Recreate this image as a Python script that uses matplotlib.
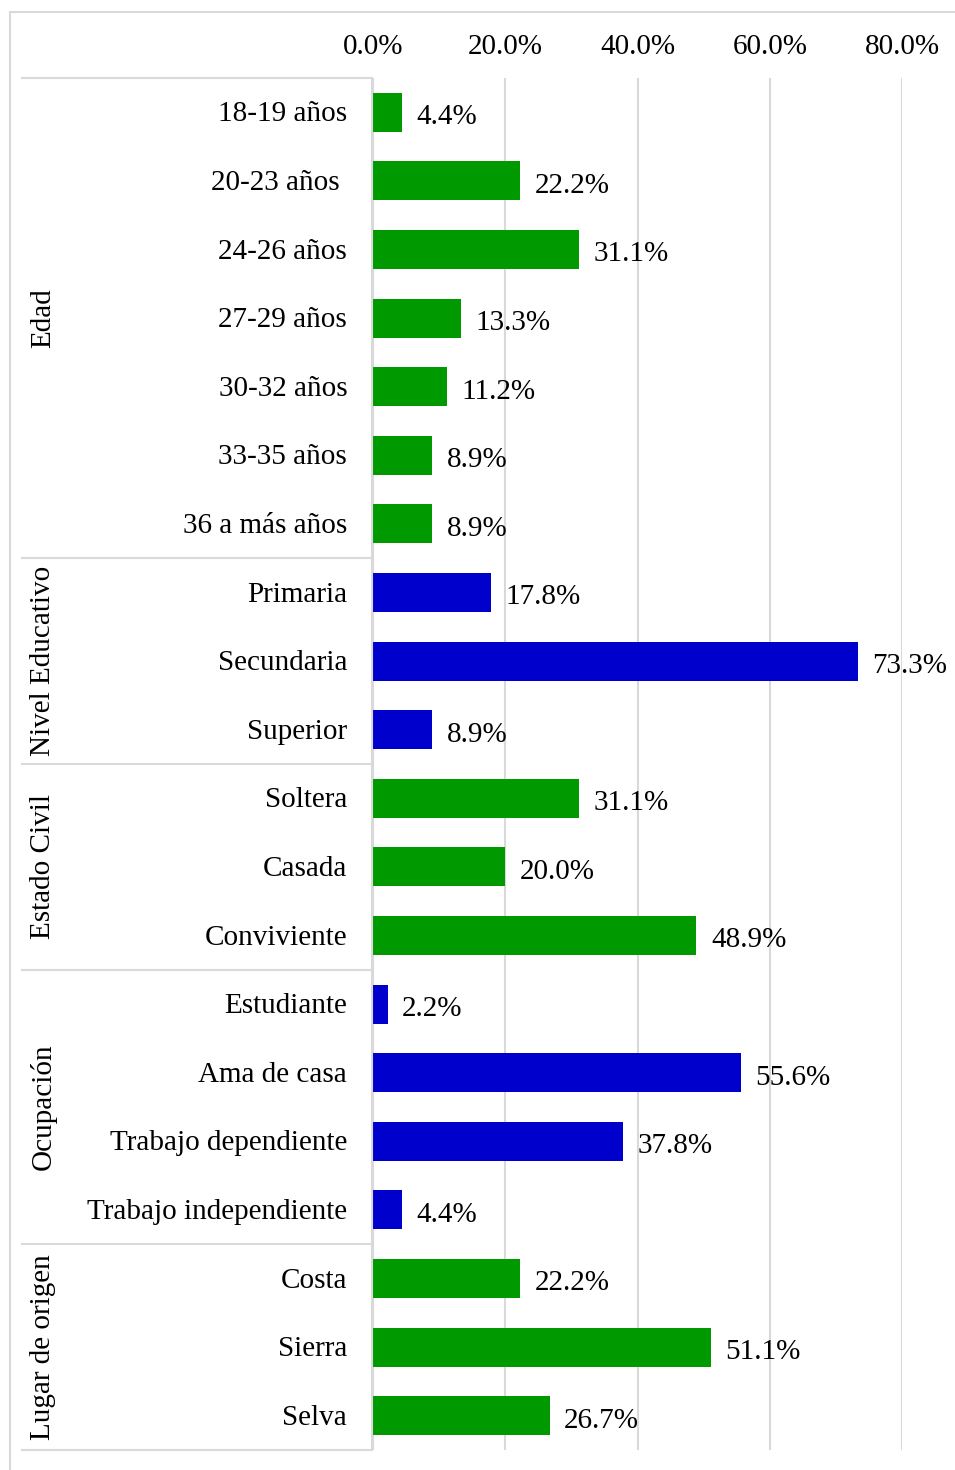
import matplotlib
matplotlib.use("Agg")
import matplotlib.pyplot as plt
from matplotlib.lines import Line2D

plt.rcParams["font.family"] = ["Liberation Serif", "DejaVu Serif"]

# ---------------- datos ----------------
grupos = ["Edad", "Nivel Educativo", "Estado Civil", "Ocupación", "Lugar de origen"]
cat_edad = ["18-19 años", "20-23 años ", "24-26 años", "27-29 años", "30-32 años", "33-35 años", "36 a más años"]
val_edad = [4.4, 22.2, 31.1, 13.3, 11.2, 8.9, 8.9]
cat_educ = ["Primaria", "Secundaria", "Superior"]
val_educ = [17.8, 73.3, 8.9]
cat_civil = ["Soltera", "Casada", "Conviviente"]
val_civil = [31.1, 20.0, 48.9]
cat_ocup = ["Estudiante", "Ama de casa", "Trabajo dependiente", "Trabajo independiente"]
val_ocup = [2.2, 55.6, 37.8, 4.4]
cat_lugar = ["Costa", "Sierra", "Selva"]
val_lugar = [22.2, 51.1, 26.7]
xticks = [0, 20, 40, 60, 80]

VERDE, AZUL, GRIS = "#009900", "#0000CC", "#d9d9d9"
bloques = [(cat_edad, val_edad, VERDE), (cat_educ, val_educ, AZUL), (cat_civil, val_civil, VERDE),
           (cat_ocup, val_ocup, AZUL), (cat_lugar, val_lugar, VERDE)]

W, H = 955, 1470
fig = plt.figure(figsize=(W / 100, H / 100), dpi=100)
x0, x1, y_top, y_bot = 373, 902, 78, 1450
ax = fig.add_axes([x0 / W, 1 - y_bot / H, (x1 - x0) / W, (y_bot - y_top) / H])

n_total = sum(len(c) for c, _, _ in bloques)
fs = 21
i = 0
limites = [0]
for g, (cats, vals, col) in zip(grupos, bloques):
    ys = list(range(i, i + len(cats)))
    ax.barh(ys, vals, height=0.57, color=col, zorder=3)
    for y, v, c in zip(ys, vals, cats):
        ax.text(v + 2.2, y + 0.07, f"{v:.1f}%", va="center", ha="left", fontsize=fs, zorder=4)
        ax.text(-3.9, y + 0.03, c, va="center", ha="right", fontsize=fs)
    centro_px = y_top + (i + len(cats) / 2) * (y_bot - y_top) / n_total
    fig.text(43 / W, 1 - centro_px / H, g, rotation=90, va="center", ha="center", fontsize=fs)
    i += len(cats)
    limites.append(i)

ax.set_ylim(n_total - 0.5, -0.5)
ax.set_xlim(0, 80)
ax.set_xticks(xticks)
ax.set_xticklabels([f"{t:.1f}%" for t in xticks], fontsize=fs)
ax.xaxis.tick_top()
ax.tick_params(axis="x", length=0, pad=13)
ax.tick_params(axis="y", length=0, labelleft=False)
ax.set_yticks([])
ax.grid(axis="x", color=GRIS, lw=1.5, zorder=0)
for s in ax.spines.values():
    s.set_visible(False)

# tabla de categorias (lineas)
paso = (y_bot - y_top) / n_total
for b in limites:
    yp = 1 - (y_top + b * paso) / H
    fig.add_artist(Line2D([22 / W, 372 / W], [yp, yp], color=GRIS, lw=1.5))
fig.add_artist(Line2D([372 / W, 372 / W], [1 - y_top / H, 1 - y_bot / H], color=GRIS, lw=1.5))

# marco del grafico
fig.add_artist(Line2D([10 / W, 10 / W], [0, 1 - 12 / H], color=GRIS, lw=1.5))
fig.add_artist(Line2D([10 / W, 1], [1 - 12 / H, 1 - 12 / H], color=GRIS, lw=1.5))

fig.savefig("out.png", dpi=100)
